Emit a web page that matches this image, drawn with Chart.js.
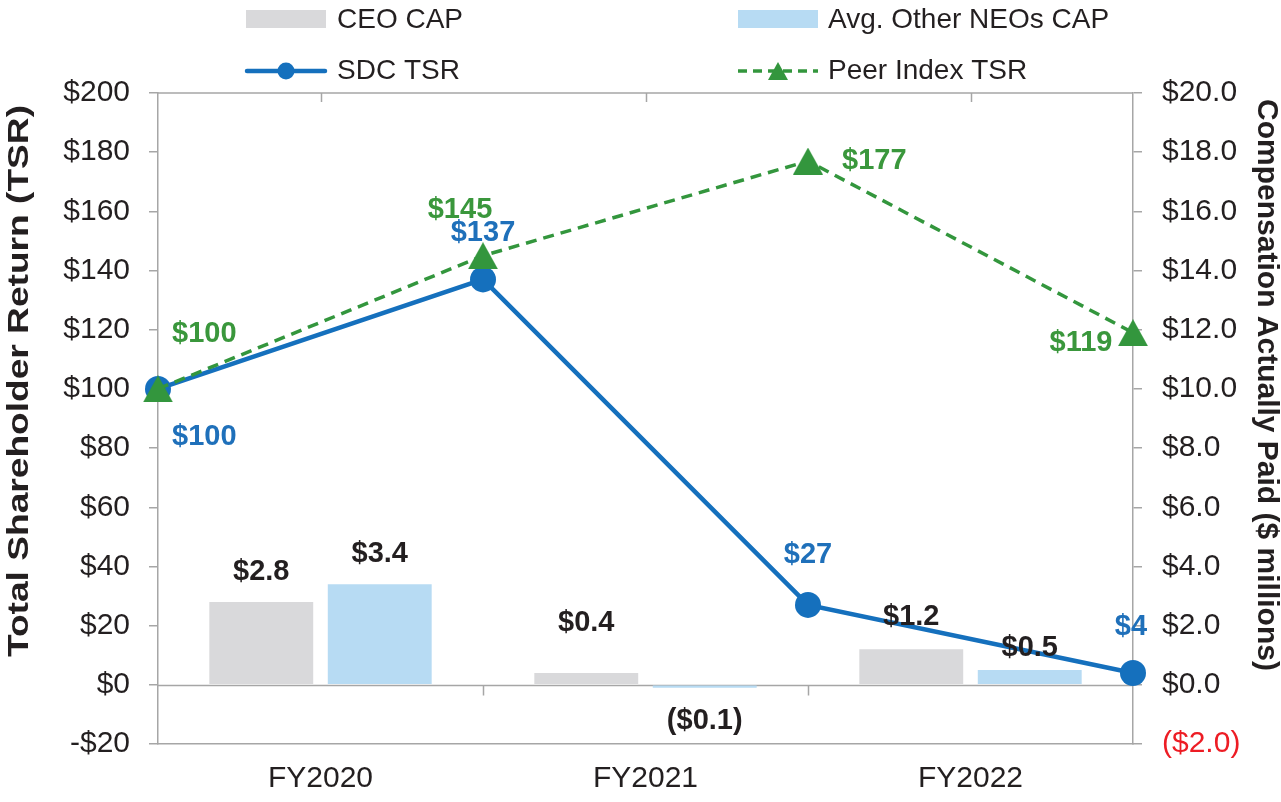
<!DOCTYPE html>
<html><head><meta charset="utf-8">
<script src="https://cdn.jsdelivr.net/npm/chart.js@4.4.1/dist/chart.umd.min.js"></script>
<style>html,body{margin:0;padding:0;background:#fff;}#wrap{width:1281px;height:802px;position:relative;}</style>
</head><body><div id="wrap"><canvas id="c"></canvas></div>
<script>
// ---- data ----
const categories = ['FY2020', 'FY2021', 'FY2022'];
const ceoCap = [2.8, 0.4, 1.2];
const neoCap = [3.4, -0.1, 0.5];
const tsrPositions = [0, 1, 2, 3];
const sdcTsr = [100, 137, 27, 4];
const peerTsr = [100, 145, 177, 119];
const leftAxisRange = [-20, 200, 20];
const rightAxisRange = [-2, 20, 2];
const seriesNames = ['CEO CAP', 'Avg. Other NEOs CAP', 'SDC TSR', 'Peer Index TSR'];
const leftTitle = 'Total Shareholder Return (TSR)';
const rightTitle = 'Compensation Actually Paid ($ millions)';

// category centres on the shared x axis (category i spans i..i+1)
const catCentre = i => i + 0.5;

// ---- label placement (pixel offsets from the mark) ----
const sdcLabelOffsets = [[14, 48, 'left'], [0, -46, 'center'], [0, -50, 'center'], [-2, -46, 'center']];
const peerLabelOffsets = [[14, -55, 'left'], [-23, -46, 'center'], [34, 0, 'left'], [-52, 10, 'center']];
const ceoLabelOffsets = [-30, -50, -32];
const neoLabelOffsets = [-30, 33, -22];

// ---- style ----
const FONT = '"Liberation Sans", Arial, Helvetica, sans-serif';
const TEXT = '#231f20';
const AXIS = '#a6a6a6';
const BLUE = '#1570bd';
const GREEN = '#33963d';
const BLUE_LBL = '#1f70ba';
const GREEN_LBL = '#3a973c';
const GRAY_BAR = '#d9d9db';
const LBLUE_BAR = '#b7dbf3';
const RED = '#ed1c24';

function triImg(w, h, color) {
  const c = document.createElement('canvas');
  c.width = w; c.height = h;
  const g = c.getContext('2d');
  g.fillStyle = color;
  g.beginPath(); g.moveTo(w / 2, 0); g.lineTo(w, h); g.lineTo(0, h); g.closePath(); g.fill();
  return c;
}
const tri = triImg(30, 27, GREEN);

const fmtTsr = v => '$' + v;
const fmtCap = v => v < 0 ? '($' + Math.abs(v).toFixed(1) + ')' : '$' + v.toFixed(1);

const decorPlugin = {
  id: 'decor',
  beforeDatasetsDraw(chart) {
    const { ctx, chartArea: a, scales } = chart;
    const x = scales.x, y = scales.y;
    ctx.save();
    ctx.strokeStyle = AXIS; ctx.lineWidth = 1.5;
    ctx.beginPath();
    ctx.moveTo(a.left, a.top); ctx.lineTo(a.right, a.top);
    for (let i = 0; i < categories.length; i++) {
      const px = Math.round(x.getPixelForValue(catCentre(i))) + 0.5;
      ctx.moveTo(px, a.top); ctx.lineTo(px, a.top + 9);
    }
    ctx.stroke();
    const zy = Math.round(y.getPixelForValue(0)) + 0.5;
    ctx.beginPath();
    ctx.moveTo(a.left, zy); ctx.lineTo(a.right, zy);
    for (let i = 1; i < categories.length; i++) {
      const px = Math.round(x.getPixelForValue(i)) + 0.5;
      ctx.moveTo(px, zy); ctx.lineTo(px, zy + 10);
    }
    ctx.stroke();
    ctx.restore();
  },
  afterDatasetsDraw(chart) {
    const { ctx } = chart;
    ctx.save();
    ctx.font = 'bold 29px ' + FONT;
    ctx.textBaseline = 'middle';
    const draw = (txt, px, py, align, color) => {
      ctx.fillStyle = color; ctx.textAlign = align; ctx.fillText(txt, px, py);
    };
    const mCeo = chart.getDatasetMeta(0).data, mNeo = chart.getDatasetMeta(1).data;
    const mSdc = chart.getDatasetMeta(2).data, mPeer = chart.getDatasetMeta(3).data;
    ceoCap.forEach((v, i) => draw(fmtCap(v), mCeo[i].x, mCeo[i].y + ceoLabelOffsets[i], 'center', TEXT));
    neoCap.forEach((v, i) => draw(fmtCap(v), mNeo[i].x, mNeo[i].y + neoLabelOffsets[i], 'center', TEXT));
    sdcTsr.forEach((v, i) => { const o = sdcLabelOffsets[i]; draw(fmtTsr(v), mSdc[i].x + o[0], mSdc[i].y + o[1], o[2], BLUE_LBL); });
    peerTsr.forEach((v, i) => { const o = peerLabelOffsets[i]; draw(fmtTsr(v), mPeer[i].x + o[0], mPeer[i].y + o[1], o[2], GREEN_LBL); });
    ctx.restore();
  },
  afterDraw(chart) {
    const { ctx } = chart;
    ctx.save();
    ctx.fillStyle = TEXT;
    ctx.textAlign = 'center'; ctx.textBaseline = 'middle';
    ctx.font = 'bold 29px ' + FONT;
    ctx.save(); ctx.translate(20, 381); ctx.rotate(-Math.PI / 2); ctx.scale(1.28, 1); ctx.fillText(leftTitle, 0, 0); ctx.restore();
    ctx.font = 'bold 30px ' + FONT;
    ctx.save(); ctx.translate(1266, 385); ctx.rotate(Math.PI / 2); ctx.fillText(rightTitle, 0, 0); ctx.restore();
    // legend
    ctx.font = '28px ' + FONT;
    ctx.textAlign = 'left';
    ctx.fillStyle = GRAY_BAR; ctx.fillRect(246, 10, 80, 18);
    ctx.fillStyle = LBLUE_BAR; ctx.fillRect(738, 10, 80, 18);
    ctx.fillStyle = TEXT;
    ctx.fillText(seriesNames[0], 337, 20);
    ctx.fillText(seriesNames[1], 828, 20);
    ctx.fillText(seriesNames[2], 337, 71);
    ctx.fillText(seriesNames[3], 828, 71);
    ctx.lineCap = 'round';
    ctx.strokeStyle = BLUE; ctx.lineWidth = 4.5;
    ctx.beginPath(); ctx.moveTo(247, 71); ctx.lineTo(325, 71); ctx.stroke();
    ctx.fillStyle = BLUE; ctx.beginPath(); ctx.arc(286, 71, 8.5, 0, Math.PI * 2); ctx.fill();
    ctx.lineCap = 'butt';
    ctx.strokeStyle = GREEN; ctx.lineWidth = 3.5; ctx.setLineDash([9, 6]);
    ctx.beginPath(); ctx.moveTo(738, 71); ctx.lineTo(818, 71); ctx.stroke();
    ctx.setLineDash([]);
    ctx.fillStyle = GREEN; ctx.beginPath(); ctx.moveTo(778, 62); ctx.lineTo(788, 80); ctx.lineTo(768, 80); ctx.closePath(); ctx.fill();
    ctx.restore();
  }
};

const tickFont = { size: 30, family: FONT };

new Chart(document.getElementById('c'), {
  type: 'bar',
  data: {
    datasets: [
      { type: 'bar', label: seriesNames[0], data: ceoCap.map((v, i) => ({ x: catCentre(i), y: v })), xAxisID: 'x', yAxisID: 'y1', backgroundColor: GRAY_BAR,
        categoryPercentage: 0.729, barPercentage: 0.877, order: 2 },
      { type: 'bar', label: seriesNames[1], data: neoCap.map((v, i) => ({ x: catCentre(i), y: v })), xAxisID: 'x', yAxisID: 'y1', backgroundColor: LBLUE_BAR,
        categoryPercentage: 0.729, barPercentage: 0.877, order: 3 },
      { type: 'line', label: seriesNames[2], data: tsrPositions.map((p, i) => ({ x: p, y: sdcTsr[i] })), xAxisID: 'x', yAxisID: 'y',
        borderColor: BLUE, backgroundColor: BLUE, borderWidth: 4.5, pointRadius: 13, pointBorderWidth: 0, pointStyle: 'circle', order: 1, clip: false },
      { type: 'line', label: seriesNames[3], data: tsrPositions.map((p, i) => ({ x: p, y: peerTsr[i] })), xAxisID: 'x', yAxisID: 'y',
        borderColor: GREEN, backgroundColor: GREEN, borderWidth: 3.5, borderDash: [11, 7], pointRadius: 15, pointBorderWidth: 0, pointStyle: tri, order: 0, clip: false }
    ]
  },
  options: {
    responsive: true, maintainAspectRatio: false, animation: false,
    layout: { padding: { top: 93, left: 0, right: 0, bottom: 0 } },
    plugins: { legend: { display: false }, tooltip: { enabled: false } },
    scales: {
      x: { type: 'linear', position: 'bottom', offset: false, min: 0, max: categories.length,
        grid: { display: false, drawTicks: false },
        border: { display: true, color: AXIS, width: 1.5 },
        afterBuildTicks: s => { s.ticks = categories.map((c, i) => ({ value: catCentre(i) })); },
        ticks: { font: tickFont, color: TEXT, padding: 17, maxRotation: 0, autoSkip: false,
          callback: v => categories[Math.floor(v)] },
        afterFit: s => { s.height = 58; } },
      y: { type: 'linear', position: 'left', min: leftAxisRange[0], max: leftAxisRange[1],
        ticks: { stepSize: leftAxisRange[2], font: tickFont, color: TEXT, padding: 19,
          callback: v => v < 0 ? '-$' + Math.abs(v) : '$' + v },
        grid: { drawOnChartArea: false, tickLength: 9, color: AXIS, lineWidth: 1.5 },
        border: { color: AXIS, width: 1.5 },
        afterFit: s => { s.width = 158; } },
      y1: { type: 'linear', position: 'right', min: rightAxisRange[0], max: rightAxisRange[1],
        ticks: { stepSize: rightAxisRange[2], font: tickFont, padding: 20,
          color: c => c.tick && c.tick.value < 0 ? RED : TEXT,
          callback: v => v < 0 ? '($' + Math.abs(v).toFixed(1) + ')' : '$' + v.toFixed(1) },
        grid: { drawOnChartArea: false, tickLength: 9, color: AXIS, lineWidth: 1.5 },
        border: { color: AXIS, width: 1.5 },
        afterFit: s => { s.width = 148; } }
    }
  },
  plugins: [decorPlugin]
});
</script>
</body></html>
